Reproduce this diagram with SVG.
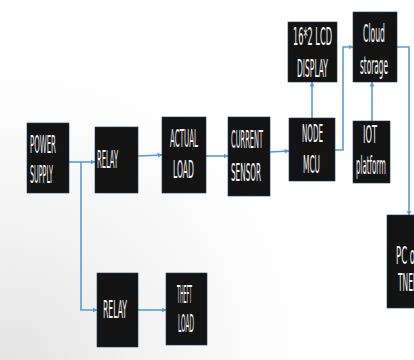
<svg xmlns="http://www.w3.org/2000/svg" width="414" height="360" viewBox="0 0 414 360">
<defs>
<style>
.box{fill:#131313;stroke:#22384d;stroke-width:0.6}
.t{fill:#f4f4f4;font-family:"DejaVu Sans Condensed","DejaVu Sans",sans-serif;font-size:24px;font-stretch:condensed}
.c{fill:none;stroke:#5b9bd5;stroke-width:1.6}
.a{marker-end:url(#ah)}
</style>
<marker id="ah" viewBox="0 0 10 10" refX="9" refY="5" markerWidth="5" markerHeight="5" orient="auto" markerUnits="userSpaceOnUse">
<path d="M0,0 L10,5 L0,10 z" fill="#5b9bd5"/>
</marker>
<radialGradient id="bg" cx="10" cy="360" r="300" gradientUnits="userSpaceOnUse">
<stop offset="0" stop-color="#e4e4e4"/>
<stop offset="0.5" stop-color="#f4f4f4"/>
<stop offset="1" stop-color="#ffffff"/>
</radialGradient>
</defs>
<rect width="414" height="360" fill="url(#bg)"/>

<g id="connectors">
<path class="c a" d="M69,162 H95"/>
<path class="c a" d="M81,162 V310 H97"/>
<path class="c a" d="M138,156 L162,155"/>
<path class="c a" d="M206,156 H228"/>
<path class="c a" d="M270,152 L289,151"/>
<path class="c a" d="M335,150 H343 V47 H353"/>
<path class="c a" d="M312,118 V82"/>
<path class="c a" d="M372,121 V82"/>
<path class="c a" d="M397,47 H409 V215"/>
<path class="c a" d="M138,310 H166"/>
</g>

<g id="power-supply">
<rect class="box" x="27" y="123" width="42" height="70"/>
<text class="t" x="30" y="153" textLength="26" lengthAdjust="spacingAndGlyphs">POWER</text>
<text class="t" x="30" y="183" textLength="23" lengthAdjust="spacingAndGlyphs">SUPPLY</text>
</g>

<g id="relay-1">
<rect class="box" x="95" y="127" width="43" height="66"/>
<text class="t" x="97" y="168" textLength="21" lengthAdjust="spacingAndGlyphs">RELAY</text>
</g>

<g id="actual-load">
<rect class="box" x="162" y="117" width="44" height="76"/>
<text class="t" x="170" y="147" textLength="28" lengthAdjust="spacingAndGlyphs">ACTUAL</text>
<text class="t" x="173" y="178" textLength="21" lengthAdjust="spacingAndGlyphs">LOAD</text>
</g>

<g id="current-sensor">
<rect class="box" x="228" y="117" width="42" height="79"/>
<text class="t" x="231" y="148" textLength="32" lengthAdjust="spacingAndGlyphs">CURRENT</text>
<text class="t" x="231" y="181" textLength="30" lengthAdjust="spacingAndGlyphs">SENSOR</text>
</g>

<g id="node-mcu">
<rect class="box" x="289" y="118" width="46" height="63"/>
<text class="t" x="302" y="142" textLength="21" lengthAdjust="spacingAndGlyphs">NODE</text>
<text class="t" x="303" y="173" textLength="17" lengthAdjust="spacingAndGlyphs">MCU</text>
</g>

<g id="iot-platform">
<rect class="box" x="353" y="121" width="37" height="62"/>
<text class="t" x="363" y="143" textLength="14" lengthAdjust="spacingAndGlyphs">IOT</text>
<text class="t" x="356" y="174" textLength="30" lengthAdjust="spacingAndGlyphs">platform</text>
</g>

<g id="lcd-display">
<rect class="box" x="288" y="22" width="49" height="60"/>
<text class="t" x="293" y="45" textLength="39" lengthAdjust="spacingAndGlyphs">16*2 LCD</text>
<text class="t" x="297" y="77" textLength="31" lengthAdjust="spacingAndGlyphs">DISPLAY</text>
</g>

<g id="cloud-storage">
<rect class="box" x="353" y="12" width="44" height="70"/>
<text class="t" x="363" y="42" textLength="22" lengthAdjust="spacingAndGlyphs">Cloud</text>
<text class="t" x="360" y="74" textLength="28" lengthAdjust="spacingAndGlyphs">storage</text>
</g>

<g id="pc-of-tneb">
<rect class="box" x="387" y="215" width="40" height="93"/>
<text class="t" x="396" y="264" textLength="22" lengthAdjust="spacingAndGlyphs">PC of</text>
<text class="t" x="398" y="291" textLength="20" lengthAdjust="spacingAndGlyphs">TNEB</text>
</g>

<g id="relay-2">
<rect class="box" x="97" y="273" width="41" height="74"/>
<text class="t" x="103" y="318" textLength="24" lengthAdjust="spacingAndGlyphs">RELAY</text>
</g>

<g id="theft-load">
<rect class="box" x="166" y="273" width="41" height="72"/>
<text class="t" x="177" y="303" textLength="15" lengthAdjust="spacingAndGlyphs">THEFT</text>
<text class="t" x="178" y="332" textLength="16" lengthAdjust="spacingAndGlyphs">LOAD</text>
</g>
</svg>
